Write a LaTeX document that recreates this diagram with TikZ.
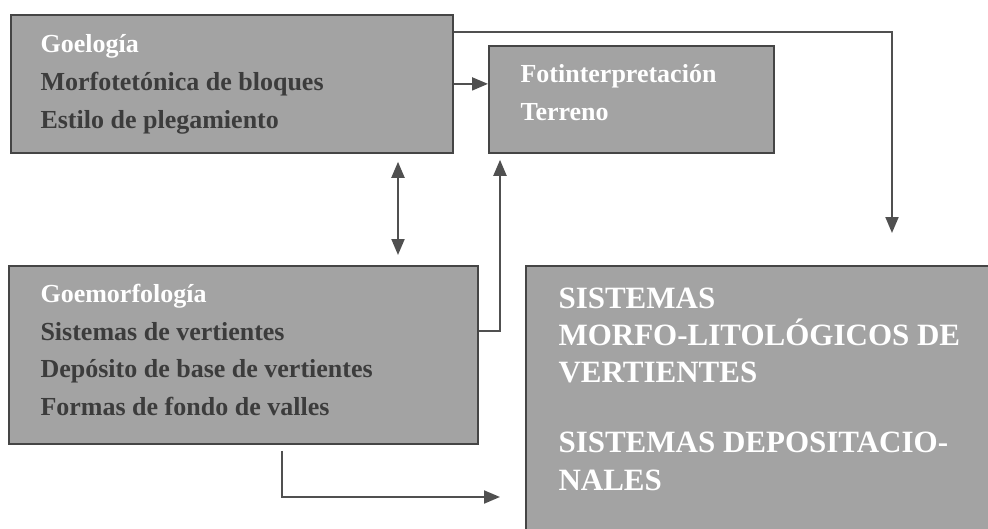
\documentclass[tikz,border=0pt]{standalone}
\usepackage{fontspec}
\setmainfont{Liberation Serif}
\usetikzlibrary{arrows.meta}

\definecolor{boxfill}{HTML}{A3A3A3}
\definecolor{boxedge}{HTML}{454545}
\definecolor{linkgray}{HTML}{505050}
\definecolor{textgray}{HTML}{3C3C3C}

\tikzset{
	box/.style={draw=boxedge, fill=boxfill, line width=1.8pt, anchor=north west, inner sep=0pt},
	head/.style={anchor=base west, text=white, font=\fontsize{26}{38}\selectfont\bfseries},
	item/.style={anchor=base west, text=textgray, font=\fontsize{26}{38}\selectfont\bfseries},
	big/.style={anchor=base west, text=white, font=\fontsize{31}{37}\selectfont\bfseries},
	link/.style={draw=linkgray, line width=2pt},
	tip/.style={-{Triangle[length=16pt,width=13pt]}},
	tips/.style={{Triangle[length=16pt,width=13pt]}-{Triangle[length=16pt,width=13pt]}},
}

\begin{document}
\begin{tikzpicture}
	[x=1pt, y=-1pt]
	\useasboundingbox (0,0) rectangle (988,528);
	\clip (0,0) rectangle (988,528);
	% boxes
	\node[box, minimum width=442pt, minimum height=138pt] (geo) at (10,14) {};
	\node[box, minimum width=285pt, minimum height=107pt] (foto) at (488,45) {};
	\node[box, minimum width=469pt, minimum height=178pt] (geomorf) at (8,265) {};
	\node[box, minimum width=480pt, minimum height=280pt] (sist) at (525,265) {};
	% texts
	\node[head] (geoh) at (37,52) {Goelogía};
	\foreach \t/\y in {Morfotetónica de bloques/90, Estilo de plegamiento/128}
	{	\node[item] at (37,\y) {\t};
		}
	\foreach \t/\y in {Fotinterpretación/82, Terreno/120}
	{	\node[head] at (517,\y) {\t};
		}
	\node[head] (geomorfh) at (37,302) {Goemorfología};
	\foreach \t/\y in {Sistemas de vertientes/340, Depósito de base de vertientes/377, Formas de fondo de valles/415}
	{	\node[item] at (37,\y) {\t};
		}
	\foreach \t/\y in {SISTEMAS/308, MORFO-LITOLÓGICOS DE/345, VERTIENTES/382, SISTEMAS DEPOSITACIO-/452, NALES/490}
	{	\node[big] at (555,\y) {\t};
		}
	% connectors
	\draw[link,tip] (geo.east) -- (geo.east -| foto.west);
	\draw[link,tip] ([yshift=-18pt]geo.north east) -| ([shift={(367pt,32pt)}]sist.north west);
	\draw[link,tips] ([shift={(388pt,-8pt)}]geo.south west) -- ([shift={(390pt,10pt)}]geomorf.north west);
	\draw[link,tip] ([yshift=24pt]geomorf.east) -| ([shift={(12pt,-6pt)}]foto.south west);
	\draw[link,tip] ([shift={(274pt,-6pt)}]geomorf.south west) |- ([shift={(-25pt,-232pt)}]sist.north west);
	\end{tikzpicture}
\end{document}
